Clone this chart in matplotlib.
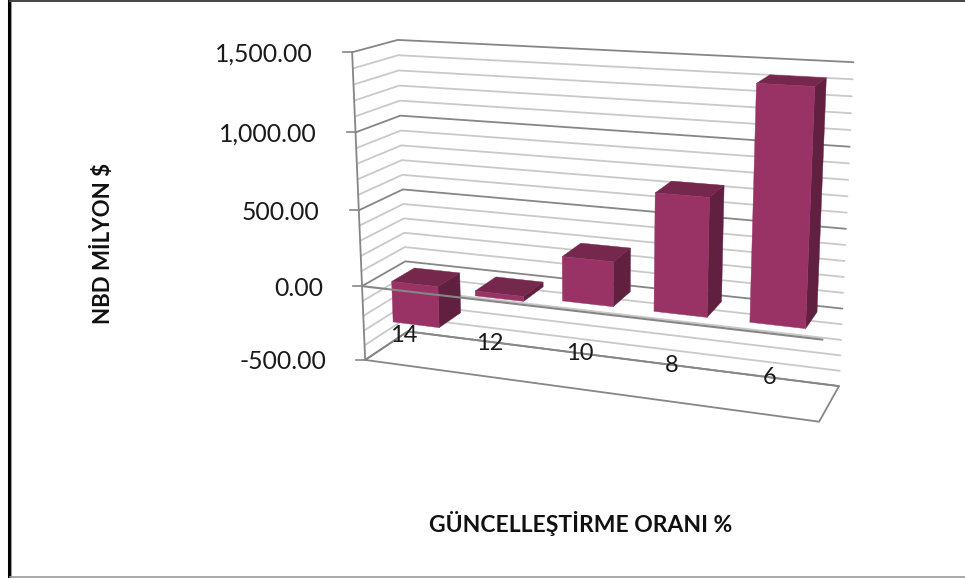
import numpy as np
import matplotlib
matplotlib.use("Agg")
import matplotlib.pyplot as plt
from matplotlib.patches import Polygon

plt.rcParams["font.family"] = ["Lato", "DejaVu Sans"]

# chart values
categories = ["14", "12", "10", "8", "6"]
npv_values = [-275, -32, 285, 735, 1420]
major_ticks = [-500, 0, 500, 1000, 1500]
minor_step = 100
tick_labels = ["-500.00", "0.00", "500.00", "1,000.00", "1,500.00"]
x_title = "GÜNCELLEŞTİRME ORANI %"
y_title = "NBD MİLYON $"

# bar footprint inside one category slot / the depth of the chart
BAR_U = (0.22, 0.78)
BAR_W = (0.26, 0.8)

# (category pos, value, depth) -> pixel, measured on the old 3D chart, used to fit the camera
anchors_3d = [
    (0, 1500, 0), (0, 1000, 0), (0, 500, 0), (0, 0, 0), (0, -500, 0),
    (0, 1500, 1), (0, 1000, 1), (0, 500, 1), (0, 0, 1), (0, -500, 1),
    (5, 1500, 1), (5, 1000, 1), (5, 500, 1), (5, 0, 1), (5, -500, 1),
    (5, 0, 0), (5, -500, 0),
    (0 + BAR_U[0], 0, BAR_W[0]), (0 + BAR_U[1], 0, BAR_W[0]),
    (1 + BAR_U[0], 0, BAR_W[0]), (1 + BAR_U[1], 0, BAR_W[0]),
    (2 + BAR_U[0], 0, BAR_W[0]), (2 + BAR_U[1], 0, BAR_W[0]),
    (3 + BAR_U[0], 0, BAR_W[0]), (3 + BAR_U[1], 0, BAR_W[0]),
    (4 + BAR_U[0], 0, BAR_W[0]), (4 + BAR_U[1], 0, BAR_W[0]),
    (0 + BAR_U[1], 0, BAR_W[1]), (1 + BAR_U[0], 0, BAR_W[1]), (1 + BAR_U[1], 0, BAR_W[1]),
]
anchors_px = [
    (352, 52), (356, 131.7), (360, 209), (363, 284), (366, 360),
    (398, 39.5), (400, 115.7), (403, 189), (405, 261), (408, 331),
    (853, 63), (850, 147), (846, 229), (843, 307), (839, 385),
    (823, 338), (820, 421),
    (390, 281.7), (438, 290), (473, 291.7), (524, 298),
    (561, 301), (613, 307), (653, 312), (707, 318),
    (749, 323), (806, 329),
    (460, 273), (497, 277), (543, 283),
]
label_px = [(404, 335), (490, 343), (580, 354), (672, 365), (770, 378)]

FRONT = "#993366"
TOP = "#75274C"
SIDE = "#612040"
MAJOR = "#868686"
MINOR = "#C9C9C9"


def fit_camera(pts, px):
    rows = []
    rhs = []
    for (u, v, w), (x, y) in zip(pts, px):
        v = v / 1000
        rows.append([u, v, w, 1, 0, 0, 0, 0, -x * u, -x * v, -x * w])
        rhs.append(x)
        rows.append([0, 0, 0, 0, u, v, w, 1, -y * u, -y * v, -y * w])
        rhs.append(y)
    sol = np.linalg.lstsq(np.array(rows), np.array(rhs), rcond=None)[0]
    return np.append(sol, 1).reshape(3, 4)


cam = fit_camera(anchors_3d, anchors_px)


def project(u, v, w):
    p = cam @ np.array([u, v / 1000, w, 1])
    return p[0] / p[2], p[1] / p[2]


def line3d(ax, pts, color, lw, z):
    xy = np.array([project(*p) for p in pts])
    ax.plot(xy[:, 0], xy[:, 1], color=color, lw=lw, zorder=z, solid_capstyle="round")


def face(ax, pts, color, z):
    ax.add_patch(Polygon([project(*p) for p in pts], closed=True, facecolor=color,
                         edgecolor=color, lw=0.3, zorder=z))


fig = plt.figure(figsize=(9.65, 5.79), dpi=100)
ax = fig.add_axes([0, 0, 1, 1])
ax.set_xlim(0, 965)
ax.set_ylim(579, 0)
ax.axis("off")

# walls
nc = len(categories)
lo, hi = major_ticks[0], major_ticks[-1]
for val in range(lo, hi + 1, minor_step):
    major = val in major_ticks
    col = MAJOR if major else MINOR
    line3d(ax, [(0, val, 0), (0, val, 1), (nc, val, 1)], col, 1.3, 2 if major else 1)

# floor and axis
line3d(ax, [(0, lo, 0), (nc, lo, 0), (nc, lo, 1), (0, lo, 1), (0, lo, 0)], MAJOR, 1.3, 2)
line3d(ax, [(0, lo, 0), (0, hi, 0)], MAJOR, 1.3, 3)

for val, lab in zip(major_ticks, tick_labels):
    x, y = project(0, val, 0)
    ax.plot([x - 9, x], [y, y], color=MAJOR, lw=1.2, zorder=3)
    ax.text(x - 39, y + 2, lab, ha="right", va="center", fontsize=17.8, color="#1a1a1a")

# bars
for i, val in enumerate(npv_values):
    u0, u1 = i + BAR_U[0], i + BAR_U[1]
    w0, w1 = BAR_W
    v0, v1 = min(0, val), max(0, val)
    z = 5 + i
    face(ax, [(u1, v0, w0), (u1, v0, w1), (u1, v1, w1), (u1, v1, w0)], SIDE, z)
    face(ax, [(u0, v1, w0), (u1, v1, w0), (u1, v1, w1), (u0, v1, w1)], TOP, z)
    face(ax, [(u0, v0, w0), (u1, v0, w0), (u1, v1, w0), (u0, v1, w0)], FRONT, z)

# zero line runs in front of the bars
line3d(ax, [(0, 0, 0), (nc, 0, 0)], MAJOR, 1.5, 12)

for lab, (x, y) in zip(categories, label_px):
    ax.text(x, y, lab, ha="center", va="center", fontsize=17, color="#1a1a1a", zorder=13)

ax.text(581, 524, x_title, ha="center", va="center", fontsize=16.5, fontweight="bold", color="#111111")
ax.text(102, 243, y_title, ha="center", va="center", rotation=90, fontsize=16,
        fontweight="bold", color="#111111")

# picture frame
ax.plot([9, 9], [1, 576], color="black", lw=2.2, zorder=20)
ax.plot([10.5, 10.5], [1, 576], color="#999999", lw=0.8, zorder=20)
ax.plot([10, 965], [0.7, 0.7], color="#444444", lw=1.4, zorder=20)
ax.plot([10, 965], [576.5, 576.5], color="#999999", lw=1.2, zorder=20)

fig.savefig("out.png", dpi=100)
